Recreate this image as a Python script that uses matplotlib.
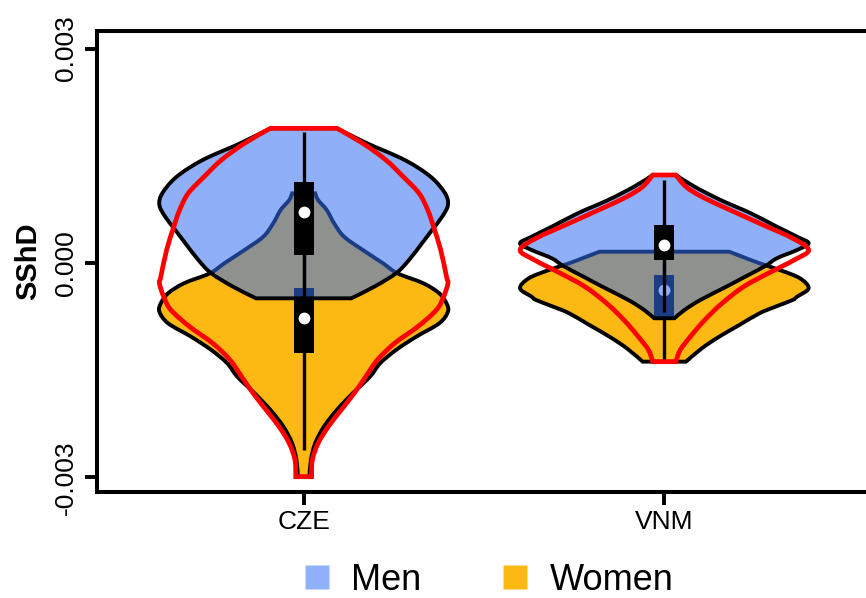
import numpy as np
import matplotlib.pyplot as plt
from matplotlib.path import Path
from matplotlib.patches import PathPatch, Rectangle
from matplotlib.lines import Line2D

plt.rcParams['font.family'] = ['Liberation Sans', 'DejaVu Sans']

groups = ['CZE', 'VNM']
positions = [1, 2]

# violin profiles: SShD levels (x 1e-3, top -> bottom) and relative half widths
cze_men_y = [1.884, 1.674, 1.441, 1.207, 0.975, 0.811, 0.648, 0.462, 0.276, 0.042, -0.144, -0.331, -0.494]
cze_men_w = [0.23, 0.44, 0.70, 0.88, 0.98, 1.00, 0.96, 0.89, 0.82, 0.73, 0.64, 0.49, 0.33]
cze_women_y = [0.975, 0.881, 0.741, 0.559, 0.368, 0.182, -0.004, -0.144, -0.284, -0.424, -0.564, -0.681,
               -0.843, -1.031, -1.217, -1.403, -1.590, -1.822, -2.056, -2.290, -2.522, -2.755, -2.989]
cze_women_w = [0.08, 0.10, 0.16, 0.21, 0.28, 0.41, 0.55, 0.65, 0.83, 0.94, 0.99, 1.00,
               0.94, 0.78, 0.64, 0.53, 0.46, 0.34, 0.23, 0.14, 0.08, 0.05, 0.04]
cze_all_y = [1.884, 1.674, 1.441, 1.207, 0.975, 0.741, 0.508, 0.182, -0.192, -0.284, -0.471, -0.657,
             -0.891, -1.123, -1.357, -1.590, -1.822, -2.056, -2.290, -2.522, -2.755, -2.989]
cze_all_w = [0.23, 0.41, 0.57, 0.69, 0.80, 0.86, 0.90, 0.95, 0.99, 1.00, 0.97, 0.92,
             0.79, 0.63, 0.51, 0.43, 0.35, 0.26, 0.17, 0.10, 0.06, 0.055]

vnm_men_y = [1.231, 1.067, 0.881, 0.695, 0.508, 0.368, 0.276, 0.182, 0.066, -0.042, -0.192, -0.331, -0.517, -0.657, -0.773]
vnm_men_w = [0.08, 0.21, 0.39, 0.60, 0.78, 0.92, 1.00, 0.92, 0.78, 0.70, 0.56, 0.43, 0.25, 0.14, 0.07]
vnm_women_y = [0.158, 0.088, -0.004, -0.098, -0.214, -0.354, -0.471, -0.517, -0.611, -0.703, -0.867, -1.031, -1.193, -1.380]
vnm_women_w = [0.45, 0.54, 0.66, 0.80, 0.94, 1.00, 0.92, 0.89, 0.77, 0.66, 0.52, 0.38, 0.26, 0.15]
vnm_all_y = [1.231, 1.067, 0.927, 0.765, 0.555, 0.345, 0.182, 0.042, -0.144, -0.331, -0.564, -0.797, -1.031, -1.217, -1.380]
vnm_all_w = [0.08, 0.15, 0.26, 0.43, 0.66, 0.89, 1.00, 0.90, 0.72, 0.55, 0.40, 0.28, 0.18, 0.11, 0.08]

# box stats (x 1e-3): whisker low, q1, median, q3, whisker high
men_stats = [[-0.49, 0.112, 0.717, 1.137, 1.832],
             [-0.685, 0.042, 0.252, 0.531, 1.161]]
women_stats = [[-2.615, -1.259, -0.769, -0.350, 0.979],
               [-1.380, -0.751, -0.378, -0.168, 0.14]]

men_col = (0.20, 0.44, 0.96, 0.55)
men_legend_col = '#8fb0fa'
women_col = '#fdb913'


def smooth_side(pts):
    # Catmull-Rom through the points, as cubic bezier segments
    verts = [pts[0]]
    n = len(pts)
    for i in range(n - 1):
        p0 = pts[max(i - 1, 0)]
        p1 = pts[i]
        p2 = pts[i + 1]
        p3 = pts[min(i + 2, n - 1)]
        verts += [p1 + (p2 - p0) / 6, p2 - (p3 - p1) / 6, p2]
    return verts


def violin_path(pos, levels, widths, scale=0.4):
    y = np.array(levels) * 1e-3
    w = np.array(widths) * scale
    left = np.column_stack([pos - w, y])
    right = np.column_stack([pos + w, y])[::-1]
    lv = smooth_side(left)
    rv = smooth_side(right)
    verts = lv + rv + [lv[0]]
    codes = ([Path.MOVETO] + [Path.CURVE4] * (len(lv) - 1) + [Path.LINETO]
             + [Path.CURVE4] * (len(rv) - 1) + [Path.CLOSEPOLY])
    return Path(verts, codes)


def draw_box(ax, pos, st, z, bw=0.055):
    lo, q1, med, q3, hi = [s * 1e-3 for s in st]
    ax.plot([pos, pos], [lo, hi], color='black', lw=2.4, solid_capstyle='butt', zorder=z)
    ax.add_patch(Rectangle((pos - bw / 2, q1), bw, q3 - q1, facecolor='black', edgecolor='none', zorder=z + 0.1))
    ax.plot(pos, med, 'o', color='white', ms=8.5, mec='none', zorder=z + 0.2)


fig = plt.figure(figsize=(8.66, 5.98), dpi=100)
ax = fig.add_axes([97 / 866, 106 / 598, 774 / 866, 461 / 598])

profiles = [(cze_men_y, cze_men_w, cze_women_y, cze_women_w, cze_all_y, cze_all_w),
            (vnm_men_y, vnm_men_w, vnm_women_y, vnm_women_w, vnm_all_y, vnm_all_w)]

for i, pos in enumerate(positions):
    my, mw, wy, ww, ay, aw = profiles[i]
    ax.add_patch(PathPatch(violin_path(pos, wy, ww), facecolor=women_col, edgecolor='black', lw=2.8, zorder=1))
    draw_box(ax, pos, women_stats[i], 2)
    ax.add_patch(PathPatch(violin_path(pos, my, mw), facecolor=men_col, edgecolor='black', lw=2.8, zorder=5))
    draw_box(ax, pos, men_stats[i], 6)
    ax.add_patch(PathPatch(violin_path(pos, ay, aw), facecolor='none', edgecolor='red', lw=3.4, zorder=9))

ax.set_xlim(0.427, 2.573)
ax.set_ylim(-0.003203, 0.003245)
ax.set_xticks(positions)
ax.set_xticklabels(groups, fontsize=19)
ax.set_yticks([-0.003, 0.0, 0.003])
ax.set_yticklabels(['-0.003', '0.000', '0.003'], rotation=90, va='center', fontsize=19)
ax.tick_params(axis='both', direction='out', length=9, width=2.8, pad=5)
ax.tick_params(axis='x', pad=4)
for sp in ax.spines.values():
    sp.set_linewidth(2.9)
ax.set_ylabel('SShD', fontsize=21, fontweight='bold', labelpad=8)

handles = [Line2D([], [], ls='none', marker='s', ms=17, color=men_legend_col, mec='none'),
           Line2D([], [], ls='none', marker='s', ms=17, color=women_col, mec='none')]
fig.legend(handles, ['Men', 'Women'], loc='center', bbox_to_anchor=(486 / 866, 1 - 580 / 598),
           ncol=2, frameon=False, fontsize=26, handlelength=1.0, handletextpad=0.45,
           columnspacing=2.1, borderpad=0)

fig.savefig('out.png', dpi=100)
